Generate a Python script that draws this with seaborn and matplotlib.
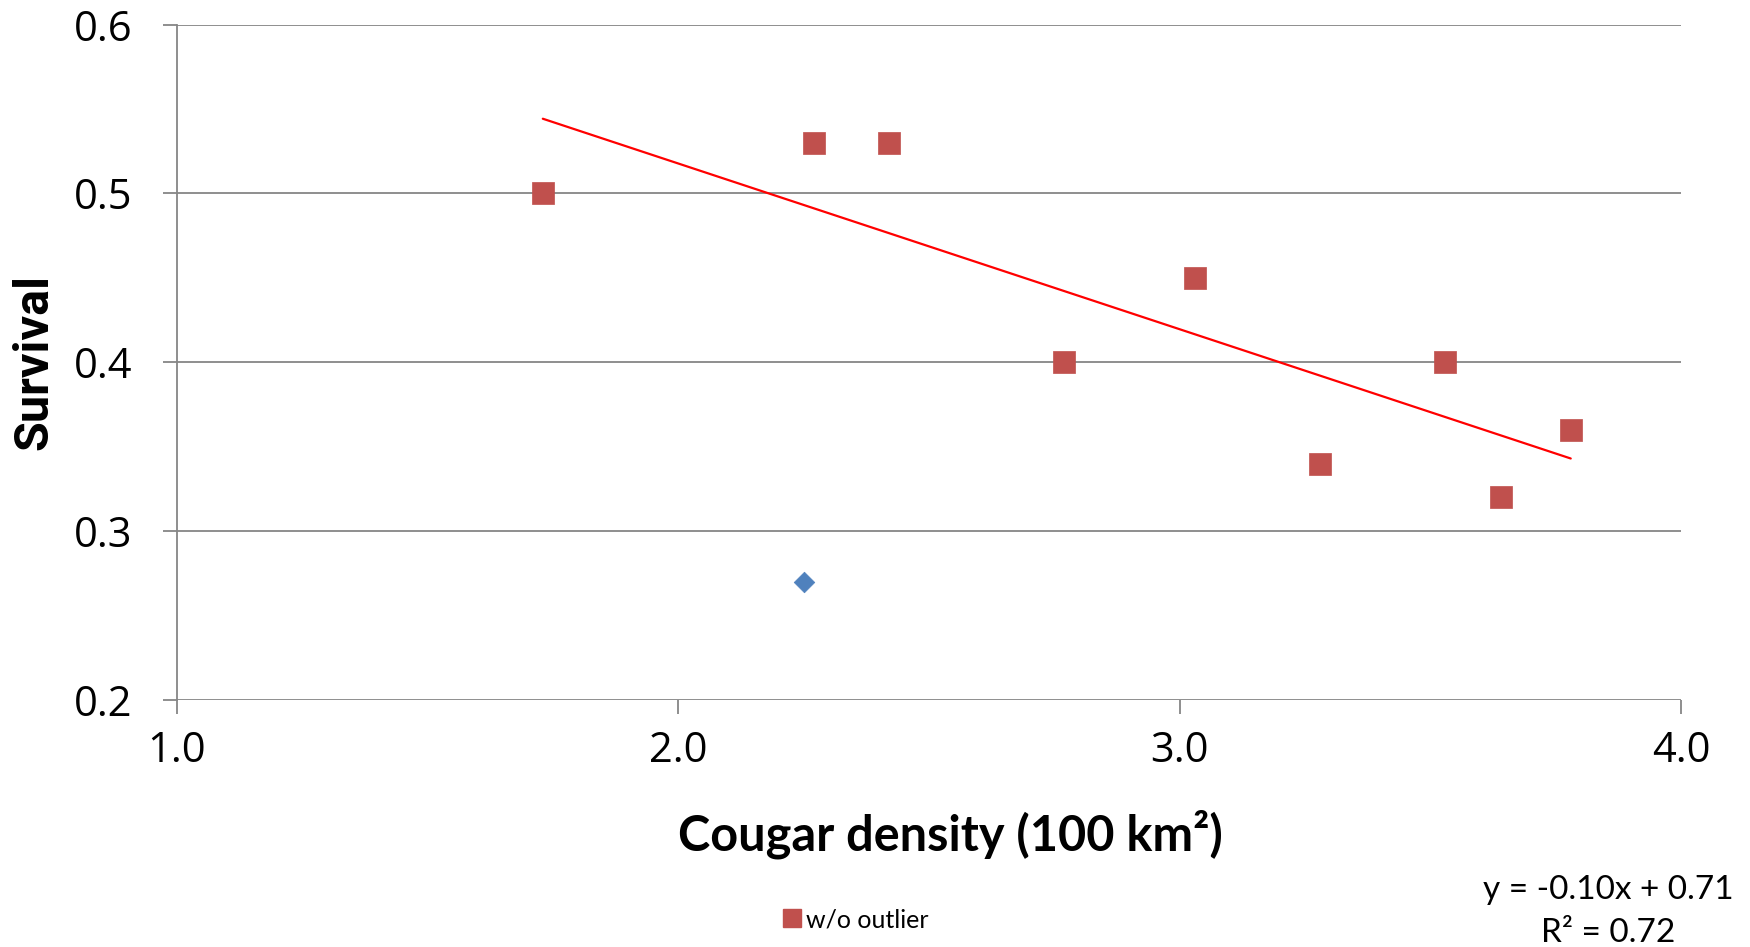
import matplotlib
matplotlib.use("Agg")
import matplotlib.pyplot as plt
import seaborn as sns
import numpy as np
import pandas as pd
from matplotlib.lines import Line2D

# Data
density = [1.73, 2.27, 2.42, 2.77, 3.03, 3.28, 3.53, 3.64, 3.78]
survival = [0.50, 0.53, 0.53, 0.40, 0.45, 0.34, 0.40, 0.32, 0.36]
outlier_density = [2.25]
outlier_survival = [0.27]
x_ticks = [1.0, 2.0, 3.0, 4.0]
y_ticks = [0.2, 0.3, 0.4, 0.5, 0.6]
series_label = "w/o outlier"
equation_line = "y = -0.10x + 0.71"
r2_line = "R\u00b2 = 0.72"

sns.set_theme(style="white")
plt.rcParams['font.family'] = ['Lato', 'DejaVu Sans']
plt.rcParams['text.color'] = 'black'
plt.rcParams['axes.labelcolor'] = 'black'

fig = plt.figure(figsize=(17.5, 9.47), dpi=100)
ax = fig.add_axes([0.101, 0.261, 0.8596, 0.713])

df = pd.DataFrame({"x": density, "y": survival})
dfo = pd.DataFrame({"x": outlier_density, "y": outlier_survival})

grid_c = "#868686"
for yt in y_ticks:
    ax.axhline(yt, color=grid_c, lw=1.3, zorder=0)

sns.regplot(data=df, x="x", y="y", ci=None, scatter=False, truncate=True,
            line_kws=dict(color="#FF0000", lw=1.6, zorder=2), ax=ax)
sns.scatterplot(data=df, x="x", y="y", marker="s", s=230, color="#C0504D",
                edgecolor="#C0504D", linewidth=0.5, ax=ax, zorder=3)
sns.scatterplot(data=dfo, x="x", y="y", marker="D", s=110, color="#4F81BD",
                edgecolor="#4F81BD", linewidth=0.5, ax=ax, zorder=3)

ax.set_xlim(1.0, 4.0)
ax.set_ylim(0.2, 0.6)
ax.set_xticks(x_ticks)
ax.set_xticklabels([f"{v:.1f}" for v in x_ticks])
ax.set_yticks(y_ticks)
ax.set_yticklabels([f"{v:.1f}" for v in y_ticks])

for s in ["top", "right", "bottom"]:
    ax.spines[s].set_visible(False)
ax.spines["left"].set_color(grid_c)
ax.spines["left"].set_linewidth(1.3)

ax.tick_params(axis="both", which="major", direction="out", length=10,
               width=1.3, color=grid_c, labelsize=30, labelcolor="black",
               left=True, bottom=True)
for lab in ax.get_xticklabels() + ax.get_yticklabels():
    lab.set_family(['Open Sans', 'DejaVu Sans'])
ax.tick_params(axis="y", pad=22)
ax.tick_params(axis="x", pad=12)

ax.set_xlabel("Cougar density (100 km\u00b2)", fontsize=35, fontweight="bold",
              color="black")
ax.xaxis.set_label_coords(0.514, -0.162)
ax.set_ylabel("Survival", fontsize=35, fontweight="bold",
              family=['Roboto', 'DejaVu Sans'], color="black")
ax.yaxis.set_label_coords(-0.0795, 0.5)

handle = Line2D([], [], marker="s", color="#C0504D", linestyle="none",
                markersize=13)
fig.legend(handles=[handle], labels=[series_label], loc="center",
           bbox_to_anchor=(0.488, 0.029), frameon=False, fontsize=18,
           handletextpad=0.1, handlelength=1.0, labelcolor="black")

fig.text(0.919, 0.0606, equation_line, ha="center", va="center", fontsize=24,
         color="black")
fig.text(0.919, 0.0148, r2_line, ha="center", va="center", fontsize=24,
         color="black")

fig.savefig("out.png", dpi=100, facecolor="white")
